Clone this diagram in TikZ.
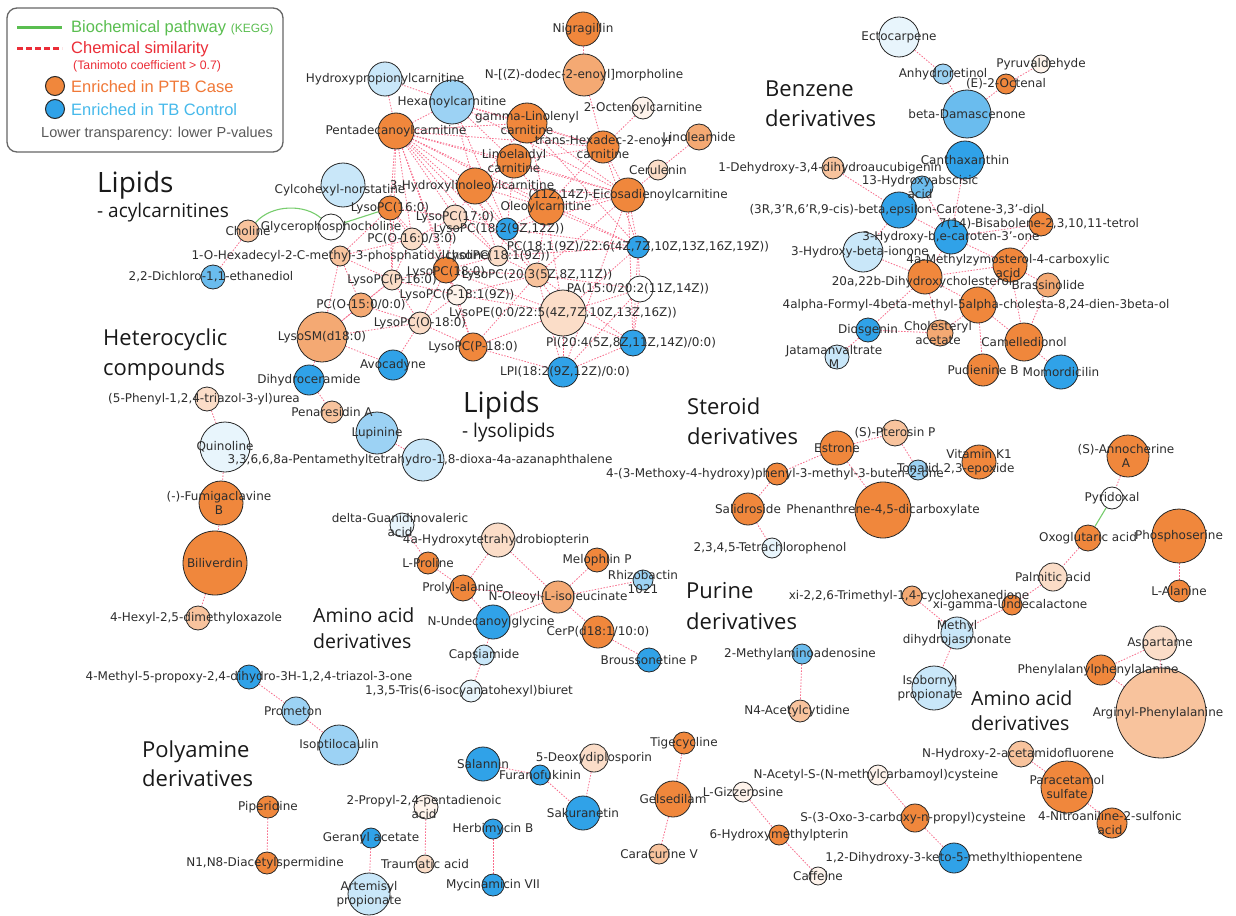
\documentclass[tikz,border=0pt]{standalone}
\usepackage{fontspec}
\setmainfont{DejaVu Sans}
\newfontfamily\catfont{Open Sans}
\newfontfamily\legfont{Liberation Sans}
\pgfdeclarelayer{bg}
\pgfdeclarelayer{fg}
\pgfsetlayers{bg,main,fg}
\definecolor{OR}{RGB}{240,135,60}
\definecolor{BL}{RGB}{48,162,232}
\colorlet{o1}{OR}
\colorlet{o2}{OR!72!white}
\colorlet{o3}{OR!50!white}
\colorlet{o4}{OR!28!white}
\colorlet{o5}{OR!10!white}
\colorlet{b1}{BL}
\colorlet{b2}{BL!72!white}
\colorlet{b3}{BL!48!white}
\colorlet{b4}{BL!26!white}
\colorlet{b5}{BL!11!white}
\definecolor{txt}{RGB}{45,45,45}
\definecolor{simc}{RGB}{248,110,140}
\definecolor{keggc}{RGB}{120,205,110}
\definecolor{ndb}{RGB}{40,40,40}
\definecolor{legg}{RGB}{90,190,80}
\definecolor{legr}{RGB}{235,45,55}
\definecolor{lego}{RGB}{240,120,55}
\definecolor{legb}{RGB}{70,185,235}
\newcommand\lbfont{\fontsize{12}{14.5}\selectfont}
\newcommand\mknode[5]{\node[nd=#4, fill=#5] (#1) at (#2,#3) {};}
\newcommand\mklab[3][]{\node[lb,#1] (#2-l) at (#2) {#3};}
\begin{document}
\begin{tikzpicture}[x=1pt,y=-1pt,
  nd/.style={circle, draw=ndb, line width=0.8pt, inner sep=0pt, minimum size=#1},
  lb/.style={font=\lbfont, text=txt, inner sep=0pt, align=center},
  sim/.style={draw=simc, line width=0.8pt, dash pattern=on 1.5pt off 1.5pt},
  kegg/.style={draw=keggc, line width=1.1pt},
  cat/.style={anchor=base west, inner sep=0pt, text=black!90},
  leg/.style={anchor=west, inner sep=0pt}]
\useasboundingbox (0,0) rectangle (1236,915);

% ---------- legend ----------
\draw[rounded corners=10pt, line width=1.3pt, draw=black!60] (7,8) rectangle (283,152);
\draw[line width=3pt, draw=legg] (17,28) -- (62,28);
\node[leg, text=legg, font={\legfont\fontsize{16.5}{18}\selectfont}] (lg1) at (71,28) {Biochemical pathway {\fontsize{12}{14}\selectfont (KEGG)}};
\draw[line width=3pt, draw=legr, dash pattern=on 6pt off 3pt] (17,49) -- (62,49);
\node[leg, text=legr, font={\legfont\fontsize{16.5}{18}\selectfont}] (lg2) at (71,49) {Chemical similarity};
\node[leg, text=legr, font={\legfont\fontsize{12.3}{14}\selectfont}] (lg3) at (73,66) {(Tanimoto coefficient > 0.7)};
\node[circle, draw=ndb, fill=o1, minimum size=19, inner sep=0pt, line width=1pt] (lgo) at (55,86) {};
\node[leg, text=lego, font={\legfont\fontsize{16.5}{18}\selectfont}] (lg4) at (71,87) {Enriched in PTB Case};
\node[circle, draw=ndb, fill=b1, minimum size=19, inner sep=0pt, line width=1pt] (lgb) at (55,109) {};
\node[leg, text=legb, font={\legfont\fontsize{16.5}{18}\selectfont}] (lg5) at (71,110) {Enriched in TB Control};
\node[leg, text=black!65, font={\legfont\fontsize{14.5}{16}\selectfont}] (lg6) at (41,134) {Lower transparency: lower P-values};

% ---------- category titles ----------
\node[cat, font={\catfont\fontsize{28}{30}\selectfont}] (t1) at (97,192) {Lipids};
\node[cat, font={\catfont\fontsize{19}{22}\selectfont}] (t2) at (97,217) {- acylcarnitines};
\node[cat, font={\catfont\fontsize{22}{26}\selectfont}] (t3) at (765,97) {Benzene};
\node[cat, font={\catfont\fontsize{22}{26}\selectfont}] (t4) at (765,127) {derivatives};
\node[cat, font={\catfont\fontsize{22}{26}\selectfont}] (t5) at (103,345) {Heterocyclic};
\node[cat, font={\catfont\fontsize{22}{26}\selectfont}] (t6) at (103,375) {compounds};
\node[cat, font={\catfont\fontsize{28}{30}\selectfont}] (t7) at (463,412) {Lipids};
\node[cat, font={\catfont\fontsize{19}{22}\selectfont}] (t8) at (462,437) {- lysolipids};
\node[cat, font={\catfont\fontsize{22}{26}\selectfont}] (t9) at (687,414) {Steroid};
\node[cat, font={\catfont\fontsize{22}{26}\selectfont}] (t10) at (687,444) {derivatives};
\node[cat, font={\catfont\fontsize{22}{26}\selectfont}] (t11) at (686,598) {Purine};
\node[cat, font={\catfont\fontsize{22}{26}\selectfont}] (t12) at (686,629) {derivatives};
\node[cat, font={\catfont\fontsize{19.5}{22}\selectfont}] (t13) at (313,622) {Amino acid};
\node[cat, font={\catfont\fontsize{19.5}{22}\selectfont}] (t14) at (313,648) {derivatives};
\node[cat, font={\catfont\fontsize{22}{26}\selectfont}] (t15) at (142,757) {Polyamine};
\node[cat, font={\catfont\fontsize{22}{26}\selectfont}] (t16) at (142,786) {derivatives};
\node[cat, font={\catfont\fontsize{19.5}{22}\selectfont}] (t17) at (971,705) {Amino acid};
\node[cat, font={\catfont\fontsize{19.5}{22}\selectfont}] (t18) at (971,730) {derivatives};

% ---------- nodes ----------
\mknode{hpc}{385}{79}{34}{b4}
\mknode{hex}{452}{102}{44}{b3}
\mknode{gla}{527}{123}{40}{o1}
\mknode{pdc}{396}{131}{36}{o1}
\mknode{nig}{583}{29}{34}{o1}
\mknode{ndo}{584}{75}{42}{o2}
\mknode{oct}{643}{108}{22}{o5}
\mknode{thx}{603}{147}{32}{o1}
\mknode{lin}{514}{161}{34}{o1}
\mknode{lam}{699}{137}{26}{o2}
\mknode{cer}{658}{170}{20}{o4}
\mknode{eic}{628}{195}{34}{o1}
\mknode{chn}{343}{185}{44}{b4}
\mknode{hyl}{475}{186}{36}{o1}
\mknode{ole}{546}{207}{36}{o1}
\mknode{gpc}{331}{227}{26}{white}
\mknode{cho}{248}{231}{22}{o3}
\mknode{l160}{390}{208}{24}{o1}
\mknode{l170}{455}{217}{24}{o4}
\mknode{l182}{507}{229}{22}{b1}
\mknode{pco}{412}{239}{22}{o4}
\mknode{hxd}{340}{256}{20}{o3}
\mknode{l181}{498}{256}{20}{o4}
\mknode{pc22}{638}{247}{22}{b1}
\mknode{l180}{446}{270}{26}{o1}
\mknode{lp16}{392}{280}{20}{o4}
\mknode{l203}{537}{275}{24}{o3}
\mknode{lp18}{457}{295}{20}{o5}
\mknode{pa}{640}{289}{26}{white}
\mknode{lpe}{563}{313}{46}{o4}
\mknode{pco15}{361}{305}{24}{o2}
\mknode{lo18}{420}{323}{22}{o4}
\mknode{lsm}{322}{337}{50}{o2}
\mknode{lpp18}{473}{347}{28}{o1}
\mknode{pi}{633}{343}{26}{b1}
\mknode{lpi}{563}{372}{30}{b1}
\mknode{avo}{393}{365}{30}{b1}
\mknode{dhc}{309}{380}{30}{b1}
\mknode{dcl}{213}{277}{24}{b2}
\mknode{pen}{332}{412}{22}{o3}
\mknode{lup}{377}{433}{42}{b3}
\mknode{pmt}{423}{460}{42}{b4}
\mknode{tru}{207}{399}{24}{o4}
\mknode{qui}{225}{447}{50}{b5}
\mknode{fum}{221}{503}{44}{o1}
\mknode{bil}{215}{563}{64}{o1}
\mknode{hxo}{198}{618}{24}{o3}
\mknode{dgv}{402}{525}{24}{b5}
\mknode{hbp}{498}{540}{34}{o4}
\mknode{lpro}{428}{563}{22}{o1}
\mknode{pal}{463}{588}{26}{o1}
\mknode{mel}{597}{560}{24}{o1}
\mknode{rhz}{643}{580}{20}{b3}
\mknode{nol}{558}{597}{32}{o2}
\mknode{nug}{493}{622}{34}{b1}
\mknode{cerp}{598}{632}{32}{o1}
\mknode{bro}{649}{660}{24}{b1}
\mknode{cap}{484}{655}{20}{b4}
\mknode{tri}{471}{691}{22}{b5}
\mknode{mpt}{249}{677}{24}{b1}
\mknode{pro}{296}{711}{28}{b3}
\mknode{iso}{339}{745}{40}{b3}
\mknode{pip}{268}{807}{22}{o1}
\mknode{das}{267}{863}{22}{o1}
\mknode{sal}{483}{764}{34}{b1}
\mknode{fur}{540}{775}{20}{b1}
\mknode{ddp}{594}{758}{28}{o4}
\mknode{sak}{583}{813}{34}{b1}
\mknode{ppd}{426}{807}{24}{o5}
\mknode{ger}{371}{838}{20}{b1}
\mknode{her}{493}{829}{20}{b1}
\mknode{tra}{425}{864}{18}{o4}
\mknode{art}{369}{894}{42}{b4}
\mknode{myc}{493}{885}{22}{b1}
\mknode{mad}{802}{654}{20}{b2}
\mknode{nac}{800}{711}{22}{o3}
\mknode{tig}{684}{743}{22}{o1}
\mknode{gel}{673}{799}{36}{o1}
\mknode{car}{659}{854}{20}{o3}
\mknode{giz}{743}{792}{20}{o5}
\mknode{hmp}{779}{835}{20}{o1}
\mknode{caf}{818}{876}{18}{o5}
\mknode{nas}{878}{775}{20}{o5}
\mknode{soc}{915}{818}{28}{o1}
\mknode{dmt}{954}{858}{30}{b1}
\mknode{mdj}{957}{633}{32}{b4}
\mknode{ibp}{934}{688}{44}{b4}
\mknode{asp}{1160}{643}{34}{o4}
\mknode{ppa}{1101}{670}{30}{o1}
\mknode{arg}{1161}{713}{90}{o3}
\mknode{nhf}{1021}{754}{26}{o3}
\mknode{par}{1067}{787}{52}{o1}
\mknode{nit}{1112}{823}{30}{o1}
\mknode{xtm}{912}{596}{20}{o2}
\mknode{und}{1012}{605}{20}{o1}
\mknode{pmt2}{1053}{577}{28}{o4}
\mknode{oxo}{1088}{538}{26}{o1}
\mknode{pyr}{1112}{498}{22}{white}
\mknode{ann}{1128}{456}{42}{o1}
\mknode{psr}{1179}{536}{54}{o1}
\mknode{ala}{1179}{591}{22}{o1}
\mknode{est}{837}{448}{34}{o1}
\mknode{pte}{895}{433}{26}{o3}
\mknode{ton}{918}{470}{20}{b3}
\mknode{vk1}{979}{462}{34}{o1}
\mknode{but}{777}{474}{22}{o1}
\mknode{phe}{883}{510}{56}{o1}
\mknode{sld}{748}{509}{32}{o1}
\mknode{tcp}{772}{548}{20}{b5}
\mknode{ect}{899}{37}{40}{b5}
\mknode{anr}{943}{74}{20}{b3}
\mknode{pyv}{1041}{64}{18}{o5}
\mknode{e2o}{1006}{84}{20}{o1}
\mknode{dam}{967}{114}{48}{b2}
\mknode{can}{965}{160}{38}{b1}
\mknode{dhd}{833}{168}{22}{o3}
\mknode{hab}{922}{187}{22}{b2}
\mknode{ced}{899}{210}{36}{b1}
\mknode{hbc}{951}{237}{34}{b1}
\mknode{bis}{1041}{224}{24}{o1}
\mknode{hbi}{863}{252}{40}{b4}
\mknode{mzc}{1010}{265}{34}{o1}
\mknode{dhx}{925}{277}{34}{o1}
\mknode{bra}{1048}{285}{24}{o2}
\mknode{afm}{978}{305}{36}{o1}
\mknode{cha}{940}{333}{26}{o2}
\mknode{cam}{1024}{342}{38}{o1}
\mknode{pud}{983}{370}{32}{o1}
\mknode{mom}{1061}{372}{34}{b1}
\mknode{dio}{868}{330}{24}{b1}
\mknode{jat}{837}{357}{24}{b4}

% ---------- connectors ----------
\begin{pgfonlayer}{bg}
\fill[white] (0,0) rectangle (1236,915);
\foreach \a/\b in {hpc/pdc, hpc/hex, hex/pdc, hex/gla, hex/thx, hex/lin, hex/eic, hex/hyl,
  pdc/gla, pdc/lin, pdc/hyl, pdc/ole, pdc/eic, pdc/thx, gla/lin, gla/thx, gla/eic, gla/ole, gla/hyl,
  lin/thx, lin/hyl, lin/ole, lin/eic, thx/eic, thx/ole, hyl/ole, hyl/eic, ole/eic, oct/thx, ndo/thx,
  nig/ndo, lam/cer, cer/eic,
  pdc/l160, pdc/l170, pdc/l182, pdc/l181, pdc/l180, pdc/l203, pdc/pco, pdc/lp16, pdc/lp18, pdc/pc22,
  hyl/l170, hyl/l182, hyl/l181, ole/l182, ole/pc22, ole/l203, eic/pc22, eic/l182, eic/l203, eic/pi,
  eic/lpi, lin/l182, gla/pc22, thx/pc22, ole/lpe, hex/l182,
  l160/l170, l160/pco, l160/l180, l160/lp16, l160/hxd, l170/l182, l170/l181, l170/l180, l170/pco,
  l182/l181, l182/l203, l182/pc22, l181/l180, l181/l203, l181/pc22, l180/lp16, l180/lp18, l180/l203,
  l180/lo18, l180/lpp18, l180/lpe, lp16/lp18, lp16/pco15, lp16/lo18, lp16/pco, lp16/hxd, lp18/lo18,
  lp18/lpp18, lp18/l203, lp18/lpe, l203/lpe, l203/pa, l203/pi, l203/lpi, pc22/pa, pc22/lpe, pa/lpe,
  pa/pi, lpe/pi, lpe/lpi, pi/lpi, lpe/lpp18, lpp18/lpi, lo18/lpp18, pco15/lo18, pco15/lsm, lsm/lo18,
  lsm/lp16, lsm/dhc, lsm/avo, lo18/avo, hxd/pco, hxd/pco15, hxd/lsm, pc22/pi, pa/lpi, l203/lpp18,
  cho/dcl, dhc/pen, lup/pmt, tru/qui, qui/fum, fum/bil, bil/hxo,
  dgv/lpro, lpro/pal, pal/hbp, hbp/nol, pal/nol, pal/nug, nol/nug, nol/mel, nol/rhz, nol/cerp,
  cerp/bro, nug/cap, cap/tri,
  mpt/pro, pro/iso, pip/das, sal/fur, fur/sak, ddp/sak, ppd/tra, ger/art, her/myc,
  mad/nac, tig/gel, gel/car, giz/hmp, hmp/caf, nas/soc, soc/dmt,
  ann/pyr, oxo/pmt2, pmt2/und, psr/ala, xtm/mdj, und/mdj, mdj/ibp, asp/ppa, asp/arg, ppa/arg,
  nhf/par, par/nit,
  est/pte, est/but, est/phe, pte/ton, but/sld, sld/tcp,
  ect/anr, anr/dam, dam/e2o, e2o/pyv, dhd/ced, can/hbc, hab/hbc, ced/hbc, ced/hbi, hbc/bis,
  hbc/mzc, hbc/dhx, mzc/bis, mzc/dhx, mzc/bra, mzc/afm, mzc/cam, dhx/afm, dhx/cha, dhx/dio,
  dhx/hbi, afm/pud, afm/cam, afm/cha, cha/dio, cam/mom, dio/jat, bra/cam}
  \draw[sim] (\a) -- (\b);
\draw[kegg] (cho) .. controls (272,204) and (305,204) .. (gpc);
\draw[kegg] (gpc) -- (l160);
\draw[kegg] (pyr) -- (oxo);
\end{pgfonlayer}

% ---------- labels ----------
\begin{pgfonlayer}{fg}
\mklab{hpc}{Hydroxypropionylcarnitine}
\mklab{hex}{Hexanoylcarnitine}
\mklab{gla}{gamma-Linolenyl\\carnitine}
\mklab{pdc}{Pentadecanoylcarnitine}
\mklab{nig}{Nigragillin}
\mklab{ndo}{N-[(Z)-dodec-2-enoyl]morpholine}
\mklab{oct}{2-Octenoylcarnitine}
\mklab{thx}{trans-Hexadec-2-enoyl\\carnitine}
\mklab{lin}{Linoelaidyl\\carnitine}
\mklab{lam}{Linoleamide}
\mklab{cer}{Cerulenin}
\mklab{eic}{(11Z,14Z)-Eicosadienoylcarnitine}
\mklab[xshift=-3pt,yshift=-5pt]{chn}{Cylcohexyl-norstatine}
\mklab[xshift=-3pt]{hyl}{3-Hydroxylinoleoylcarnitine}
\mklab{ole}{Oleoylcarnitine}
\mklab{gpc}{Glycerophosphocholine}
\mklab{cho}{Choline}
\mklab{l160}{LysoPC(16:0)}
\mklab{l170}{LysoPC(17:0)}
\mklab[xshift=-8pt]{l182}{LysoPC(18:2(9Z,12Z))}
\mklab{pco}{PC(O-16:0/3:0)}
\mklab{hxd}{1-O-Hexadecyl-2-C-methyl-3-phosphatidylcholine}
\mklab{l181}{LysoPC(18:1(9Z))}
\mklab{pc22}{PC(18:1(9Z)/22:6(4Z,7Z,10Z,13Z,16Z,19Z))}
\mklab[yshift=-2pt]{l180}{LysoPC(18:0)}
\mklab{lp16}{LysoPC(P-16:0)}
\mklab{l203}{LysoPC(20:3(5Z,8Z,11Z))}
\mklab{lp18}{LysoPC(P-18:1(9Z))}
\mklab[xshift=-2pt]{pa}{PA(15:0/20:2(11Z,14Z))}
\mklab{lpe}{LysoPE(0:0/22:5(4Z,7Z,10Z,13Z,16Z))}
\mklab{pco15}{PC(O-15:0/0:0)}
\mklab{lo18}{LysoPC(O-18:0)}
\mklab{lsm}{LysoSM(d18:0)}
\mklab{lpp18}{LysoPC(P-18:0)}
\mklab[xshift=-2pt]{pi}{PI(20:4(5Z,8Z,11Z,14Z)/0:0)}
\mklab[xshift=2pt]{lpi}{LPI(18:2(9Z,12Z)/0:0)}
\mklab{avo}{Avocadyne}
\mklab{dhc}{Dihydroceramide}
\mklab[xshift=-2pt]{dcl}{2,2-Dichloro-1,1-ethanediol}
\mklab{pen}{Penaresidin A}
\mklab{lup}{Lupinine}
\mklab[xshift=-3pt]{pmt}{3,3,6,6,8a-Pentamethyltetrahydro-1,8-dioxa-4a-azanaphthalene}
\mklab[xshift=-3pt]{tru}{(5-Phenyl-1,2,4-triazol-3-yl)urea}
\mklab{qui}{Quinoline}
\mklab[xshift=-2pt]{fum}{(-)-Fumigaclavine\\B}
\mklab{bil}{Biliverdin}
\mklab[xshift=-2pt]{hxo}{4-Hexyl-2,5-dimethyloxazole}
\mklab[xshift=-2pt]{dgv}{delta-Guanidinovaleric\\acid}
\mklab[xshift=-2pt]{hbp}{4a-Hydroxytetrahydrobiopterin}
\mklab{lpro}{L-Proline}
\mklab{pal}{Prolyl-alanine}
\mklab{mel}{Melophlin P}
\mklab[yshift=-2pt]{rhz}{Rhizobactin\\1021}
\mklab{nol}{N-Oleoyl-L-isoleucinate}
\mklab[xshift=-2pt]{nug}{N-Undecanoylglycine}
\mklab{cerp}{CerP(d18:1/10:0)}
\mklab{bro}{Broussonetine P}
\mklab{cap}{Capsiamide}
\mklab[xshift=-2pt]{tri}{1,3,5-Tris(6-isocyanatohexyl)biuret}
\mklab{mpt}{4-Methyl-5-propoxy-2,4-dihydro-3H-1,2,4-triazol-3-one}
\mklab[xshift=-3pt]{pro}{Prometon}
\mklab{iso}{Isoptilocaulin}
\mklab{pip}{Piperidine}
\mklab[xshift=-2pt]{das}{N1,N8-Diacetylspermidine}
\mklab{sal}{Salannin}
\mklab{fur}{Furanofukinin}
\mklab{ddp}{5-Deoxydiplosporin}
\mklab{sak}{Sakuranetin}
\mklab[xshift=-2pt]{ppd}{2-Propyl-2,4-pentadienoic\\acid}
\mklab{ger}{Geranyl acetate}
\mklab{her}{Herbimycin B}
\mklab{tra}{Traumatic acid}
\mklab{art}{Artemisyl\\propionate}
\mklab{myc}{Mycinamicin VII}
\mklab[xshift=-2pt]{mad}{2-Methylaminoadenosine}
\mklab[xshift=-3pt]{nac}{N4-Acetylcytidine}
\mklab{tig}{Tigecycline}
\mklab{gel}{Gelsedilam}
\mklab{car}{Caracurine V}
\mklab{giz}{L-Gizzerosine}
\mklab{hmp}{6-Hydroxymethylpterin}
\mklab{caf}{Caffeine}
\mklab[xshift=-2pt]{nas}{N-Acetyl-S-(N-methylcarbamoyl)cysteine}
\mklab[xshift=-2pt]{soc}{S-(3-Oxo-3-carboxy-n-propyl)cysteine}
\mklab{dmt}{1,2-Dihydroxy-3-keto-5-methylthiopentene}
\mklab{mdj}{Methyl\\dihydrojasmonate}
\mklab[xshift=-4pt]{ibp}{Isobornyl\\propionate}
\mklab{asp}{Aspartame}
\mklab[xshift=-3pt]{ppa}{Phenylalanylphenylalanine}
\mklab[xshift=-3pt]{arg}{Arginyl-Phenylalanine}
\mklab[xshift=-3pt]{nhf}{N-Hydroxy-2-acetamidofluorene}
\mklab{par}{Paracetamol\\sulfate}
\mklab[xshift=-2pt]{nit}{4-Nitroaniline-2-sulfonic\\acid}
\mklab[xshift=-3pt]{xtm}{xi-2,2,6-Trimethyl-1,4-cyclohexanedione}
\mklab[xshift=-2pt]{und}{xi-gamma-Undecalactone}
\mklab{pmt2}{Palmitic acid}
\mklab{oxo}{Oxoglutaric acid}
\mklab{pyr}{Pyridoxal}
\mklab[xshift=-2pt]{ann}{(S)-Annocherine\\A}
\mklab{psr}{Phosphoserine}
\mklab{ala}{L-Alanine}
\mklab{est}{Estrone}
\mklab{pte}{(S)-Pterosin P}
\mklab[yshift=2pt]{ton}{Tonalid}
\mklab{vk1}{Vitamin K1\\2,3-epoxide}
\mklab[xshift=-2pt]{but}{4-(3-Methoxy-4-hydroxy)phenyl-3-methyl-3-buten-2-one}
\mklab{phe}{Phenanthrene-4,5-dicarboxylate}
\mklab{sld}{Salidroside}
\mklab[xshift=-2pt]{tcp}{2,3,4,5-Tetrachlorophenol}
\mklab{ect}{Ectocarpene}
\mklab{anr}{Anhydroretinol}
\mklab{pyv}{Pyruvaldehyde}
\mklab{e2o}{(E)-2-Octenal}
\mklab{dam}{beta-Damascenone}
\mklab{can}{Canthaxanthin}
\mklab[xshift=-3pt]{dhd}{1-Dehydroxy-3,4-dihydroaucubigenin}
\mklab[xshift=-2pt]{hab}{13-Hydroxyabscisic\\acid}
\mklab[xshift=-2pt]{ced}{(3R,3'R,6'R,9-cis)-beta,epsilon-Carotene-3,3'-diol}
\mklab{hbc}{3-Hydroxy-b,e-caroten-3'-one}
\mklab[xshift=-2pt]{bis}{7(14)-Bisabolene-2,3,10,11-tetrol}
\mklab[xshift=-3pt]{hbi}{3-Hydroxy-beta-ionone}
\mklab[xshift=-2pt,yshift=-1pt]{mzc}{4a-Methylzymosterol-4-carboxylic\\acid}
\mklab[xshift=-3pt,yshift=-5pt]{dhx}{20a,22b-Dihydroxycholesterol}
\mklab{bra}{Brassinolide}
\mklab[xshift=-2pt]{afm}{4alpha-Formyl-4beta-methyl-5alpha-cholesta-8,24-dien-3beta-ol}
\mklab[xshift=-2pt]{cha}{Cholesteryl\\acetate}
\mklab{cam}{Camelledionol}
\mklab{pud}{Pudienine B}
\mklab{mom}{Momordicilin}
\mklab{dio}{Diosgenin}
\mklab[xshift=-3pt]{jat}{Jatamanvaltrate\\M}
\end{pgfonlayer}
\end{tikzpicture}
\end{document}
